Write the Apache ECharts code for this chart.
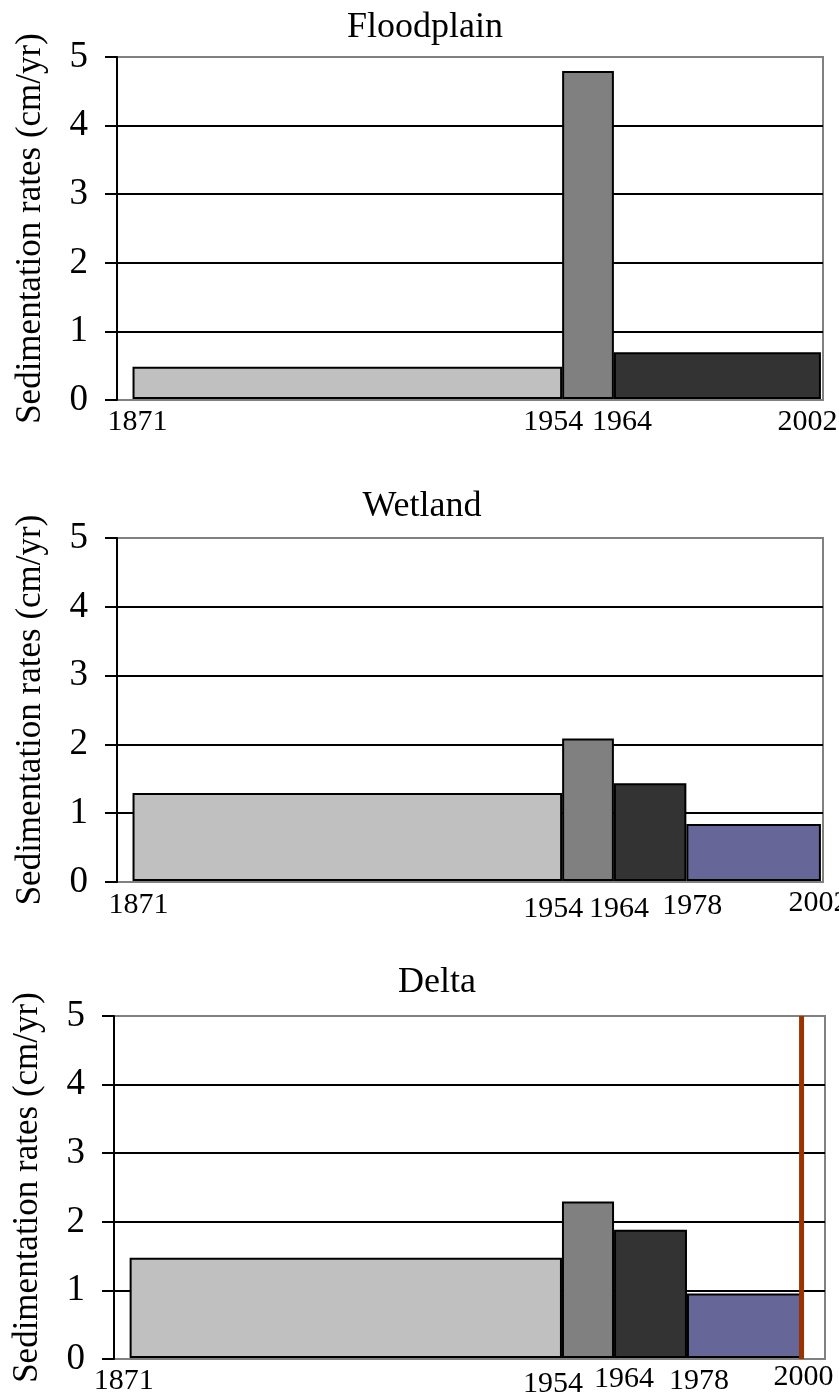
<!DOCTYPE html>
<html>
<head>
<meta charset="utf-8">
<script src="https://cdn.jsdelivr.net/npm/echarts@6/dist/echarts.min.js"></script>
<style>
  html, body { margin: 0; padding: 0; background: #fff; }
  #chart { width: 839px; height: 1399px; }
</style>
</head>
<body>
<div id="chart"></div>
<script>
// panel titles
const titles = ["Floodplain", "Wetland", "Delta"];
// period boundaries (years) for each panel
const edgesFlood = [1871, 1954, 1964, 2004];
const edgesWet = [1871, 1954, 1964, 1978, 2004];
const edgesDelta = [1871, 1954, 1964, 1978, 2000];
// sedimentation rates (cm/yr) per period
const ratesFlood = [0.47, 4.78, 0.68];
const ratesWet = [1.28, 2.07, 1.42, 0.83];
const ratesDelta = [1.46, 2.28, 1.87, 0.94];
// year labels under each panel
const yearsFlood = [1871, 1954, 1964, 2002];
const yearsWet = [1871, 1954, 1964, 1978, 2002];
const yearsDelta = [1871, 1954, 1964, 1978, 2000];
// vertical marker in the delta panel
const markerYear = 2000;
const yMax = 5;

const edges = [edgesFlood, edgesWet, edgesDelta];
const rates = [ratesFlood, ratesWet, ratesDelta];
const years = [yearsFlood, yearsWet, yearsDelta];

// layout / style
const FONT = "'Liberation Serif', 'Times New Roman', serif";
const periodColors = ["#c0c0c0", "#808080", "#333333", "#666699"];
const grids = [
  { left: 117, top: 57, width: 706, height: 343 },
  { left: 117, top: 538, width: 706, height: 344 },
  { left: 114, top: 1016, width: 711, height: 343 }
];
const titlePos = [
  { left: 420, top: 5 },
  { left: 417, top: 484 },
  { left: 432, top: 960 }
];
// small nudges of the year labels [dx, dy] as in the original figure
const labelNudge = [
  [[5, 0], [-9, 0], [8, 0], [-3, 0]],
  [[6, 1], [-9, 5], [5, 5], [6, 2], [8, -1]],
  [[-6, 0], [-9, 3], [10, -2], [12, 0], [2, -4]]
];

const chart = echarts.init(document.getElementById("chart"));

const option = {
  backgroundColor: "#fff",
  animation: false,
  title: [],
  grid: [],
  xAxis: [],
  yAxis: [],
  series: []
};

titles.forEach(function (t, i) {
  option.title.push({
    text: t,
    left: titlePos[i].left,
    top: titlePos[i].top,
    textAlign: "center",
    textStyle: { fontSize: 36, fontWeight: "normal", fontFamily: FONT, color: "#000" }
  });

  option.grid.push(Object.assign({
    show: true,
    borderColor: "#808080",
    borderWidth: 2,
    backgroundColor: "#fff",
    containLabel: false,
    outerBoundsMode: "none"
  }, grids[i]));

  const rich = {};
  years[i].forEach(function (y, k) {
    const dx = labelNudge[i][k][0];
    const dy = labelNudge[i][k][1];
    rich["t" + k] = {
      fontSize: 30,
      fontFamily: FONT,
      color: "#000",
      padding: [5 + dy, dx < 0 ? -2 * dx : 0, 0, dx > 0 ? 2 * dx : 0]
    };
  });

  option.xAxis.push({
    type: "value",
    gridIndex: i,
    min: 1868,
    max: i === 2 ? 2004.5 : 2004.4,
    axisLine: { show: false },
    axisTick: { show: false },
    splitLine: { show: false },
    axisLabel: {
      customValues: years[i],
      margin: 2,
      fontSize: 30,
      fontFamily: FONT,
      color: "#000",
      formatter: function (v) {
        const k = years[i].indexOf(v);
        return "{t" + k + "|" + v + "}";
      },
      rich: rich
    }
  });

  option.yAxis.push({
    type: "value",
    gridIndex: i,
    min: 0,
    max: yMax,
    interval: 1,
    name: "Sedimentation rates (cm/yr)",
    nameLocation: "middle",
    nameGap: 69,
    nameTextStyle: { fontSize: 35, fontFamily: FONT, color: "#000" },
    axisLine: { show: true, lineStyle: { color: "#000", width: 2 } },
    axisTick: { show: true, length: 12, lineStyle: { color: "#000", width: 2 } },
    axisLabel: { fontSize: 37, fontFamily: FONT, color: "#000", margin: 29 },
    splitLine: {
      show: true,
      lineStyle: {
        color: ["transparent", "#000", "#000", "#000", "#000", "transparent"],
        width: 2
      }
    }
  });

  const data = rates[i].map(function (r, k) {
    return [edges[i][k], edges[i][k + 1], r, k];
  });

  option.series.push({
    type: "custom",
    xAxisIndex: i,
    yAxisIndex: i,
    encode: { x: [0, 1], y: 2 },
    data: data,
    z: 3,
    renderItem: function (params, api) {
      const top = api.coord([api.value(0), api.value(2)]);
      const bot = api.coord([api.value(1), 0]);
      return {
        type: "rect",
        shape: {
          x: top[0] + 1,
          y: top[1],
          width: bot[0] - top[0] - 2,
          height: bot[1] - top[1] - 2
        },
        style: {
          fill: periodColors[api.value(3)],
          stroke: "#000",
          lineWidth: 2
        }
      };
    }
  });
});

// marker line in delta panel
option.series.push({
  type: "line",
  xAxisIndex: 2,
  yAxisIndex: 2,
  data: [[markerYear, 0], [markerYear, yMax]],
  showSymbol: false,
  symbol: "none",
  z: 5,
  lineStyle: { color: "#993300", width: 5 }
});

chart.setOption(option);
</script>
</body>
</html>
